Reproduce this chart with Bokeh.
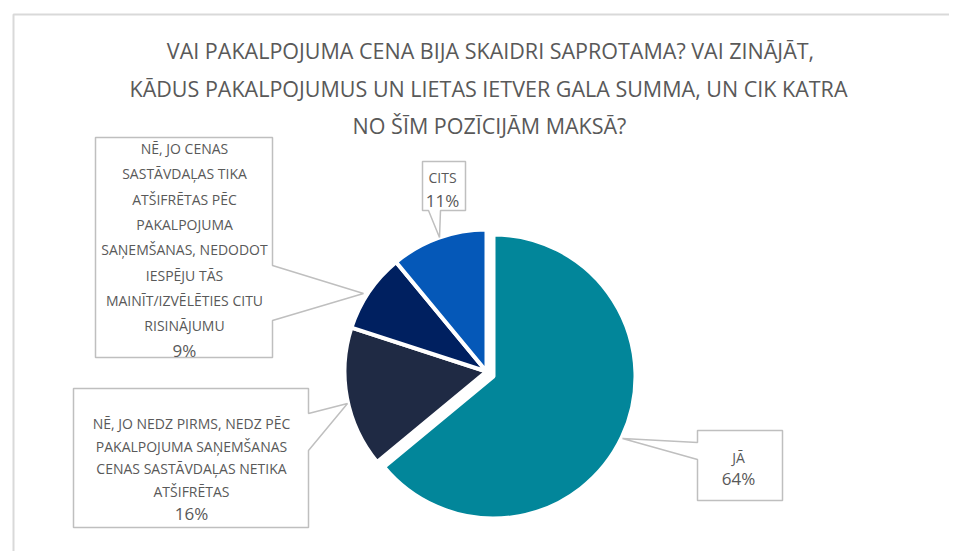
import numpy as np
from bokeh.plotting import figure
from bokeh.models import Range1d, ColumnDataSource
from bokeh.embed import file_html
from bokeh.resources import INLINE

# ---------------- data ----------------
title_lines = [
    "Vai pakalpojuma cena bija skaidri saprotama? Vai zinājāt,",
    "kādus pakalpojumus un lietas ietver gala summa, un cik katra",
    "no šīm pozīcijām maksā?",
]
categories = [
    "Jā",
    "Nē, jo nedz pirms, nedz pēc pakalpojuma saņemšanas cenas sastāvdaļas netika atšifrētas",
    "Nē, jo cenas sastāvdaļas tika atšifrētas pēc pakalpojuma saņemšanas, nedodot iespēju tās mainīt/izvēlēties citu risinājumu",
    "Cits",
]
values = [64, 16, 9, 11]
colors = ["#02869A", "#1F2A44", "#002060", "#0558B8"]
label_lines = [
    ["Jā"],
    ["Nē, jo nedz pirms, nedz pēc", "pakalpojuma saņemšanas", "cenas sastāvdaļas netika", "atšifrētas"],
    ["Nē, jo cenas", "sastāvdaļas tika", "atšifrētas pēc", "pakalpojuma", "saņemšanas, nedodot",
     "iespēju tās", "mainīt/izvēlēties citu", "risinājumu"],
    ["Cits"],
]

# ---------------- layout (image pixel coords) ----------------
W, H = 949, 551
def fy(v):
    return 559 - v

TEXT = "#595959"
FONT = "Open Sans"
EDGE = "#BFBFBF"

p = figure(width=W, height=H, x_range=Range1d(0, W), y_range=Range1d(559 - H, 559),
           x_axis_type=None, y_axis_type=None, toolbar_location=None,
           output_backend="svg", min_border=0, outline_line_color=None)
p.background_fill_color = "white"
p.border_fill_color = "white"

# chart frame (partially visible)
p.line([13, 13, 960], [fy(570), fy(14), fy(14)], line_color="#D9D9D9", line_width=2)

# title
p.text(x=[490, 488, 489], y=[fy(50), fy(88), fy(125)], text=[t.upper() for t in title_lines],
       text_align="center", text_baseline="middle", text_color=TEXT,
       text_font={"value": FONT}, text_font_size="21.5px")

# pie
cx, cy, r = 486, 371, 142
explode = [(7, 5), (0, 0), (0, 0), (0, 0)]
total = float(sum(values))
cum = np.concatenate([[0.0], np.cumsum(values) / total])
starts = np.pi / 2 - 2 * np.pi * cum[:-1]
ends = np.pi / 2 - 2 * np.pi * cum[1:]
src = ColumnDataSource(dict(
    x=[cx + e[0] for e in explode],
    y=[fy(cy + e[1]) for e in explode],
    start=list(starts), end=list(ends), color=colors, cat=categories, val=values))
p.wedge(x="x", y="y", radius=r, start_angle="start", end_angle="end", direction="clock",
        fill_color="color", line_color="white", line_width=4, source=src)

# callouts: (polygon in image coords, text center x, first line y, line spacing)
callouts = {
    0: dict(poly=[(697, 430), (782, 430), (782, 500), (697, 500), (697, 459), (622, 438), (697, 442)],
            cx=738, y0=457, dy=21),
    1: dict(poly=[(73, 388), (308, 388), (308, 413), (347, 403), (308, 450), (308, 527), (73, 527)],
            cx=191, y0=423, dy=22.5),
    2: dict(poly=[(95, 137), (272, 137), (272, 265), (363, 293), (272, 320), (272, 357), (95, 357)],
            cx=184, y0=148, dy=25.3),
    3: dict(poly=[(422, 161), (465, 161), (465, 210), (440, 210), (439, 237), (428, 210), (422, 210)],
            cx=442, y0=177, dy=23),
}
for i, c in callouts.items():
    xs = [pt[0] for pt in c["poly"]]
    ys = [fy(pt[1]) for pt in c["poly"]]
    p.patch(xs, ys, fill_color="white", line_color=EDGE, line_width=1.5)
    lines = [s.upper() for s in label_lines[i]]
    n = len(lines)
    p.text(x=[c["cx"]] * n, y=[fy(c["y0"] + k * c["dy"]) for k in range(n)], text=lines,
           text_align="center", text_baseline="middle", text_color=TEXT,
           text_font={"value": FONT}, text_font_size="14px")
    p.text(x=[c["cx"]], y=[fy(c["y0"] + n * c["dy"])], text=[f"{values[i]}%"],
           text_align="center", text_baseline="middle", text_color=TEXT,
           text_font={"value": FONT}, text_font_size="17px")

open("out.html", "w").write(file_html(p, INLINE))
